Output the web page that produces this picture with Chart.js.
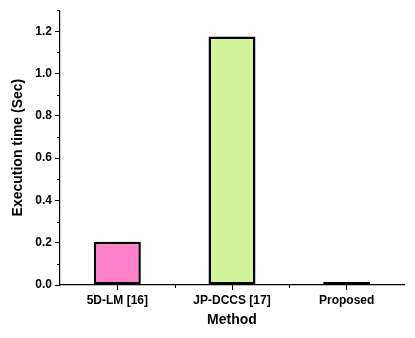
<!DOCTYPE html>
<html>
<head>
<meta charset="utf-8">
<script src="https://cdn.jsdelivr.net/npm/chart.js@4.4.1/dist/chart.umd.min.js"></script>
<style>
  html, body { margin: 0; padding: 0; background: #fff; }
  #wrap { width: 415px; height: 338px; }
</style>
</head>
<body>
<div id="wrap"><canvas id="timing"></canvas></div>
<script>
// execution time per method, in seconds
const methods = ['5D-LM [16]', 'JP-DCCS [17]', 'Proposed'];
const execTime = [0.205, 1.175, 0.003];
const barColors = ['#ff80c8', '#d2f29c', '#ffffff'];
const yTicks = [0, 0.2, 0.4, 0.6, 0.8, 1.0, 1.2];

const FONT = "'Liberation Sans', Arial, sans-serif";

// small minor ticks between the labelled ones on both axes
const minorTicks = {
  id: 'minorTicks',
  afterDraw(chart) {
    const ctx = chart.ctx;
    const y = chart.scales.y, x = chart.scales.x;
    ctx.save();
    ctx.strokeStyle = '#000';
    ctx.lineWidth = 1;
    ctx.beginPath();
    for (let i = 0; i < yTicks.length; i++) {
      const v = yTicks[i] + 0.1;
      if (v > y.max) break;
      const py = Math.round(y.getPixelForValue(v)) + 0.5;
      ctx.moveTo(y.right - 3, py);
      ctx.lineTo(y.right, py);
    }
    for (let i = 0; i < methods.length - 1; i++) {
      const px = Math.round((x.getPixelForTick(i) + x.getPixelForTick(i + 1)) / 2) + 0.5;
      ctx.moveTo(px, x.top);
      ctx.lineTo(px, x.top + 3);
    }
    ctx.stroke();
    ctx.restore();
  }
};

new Chart(document.getElementById('timing'), {
  type: 'bar',
  data: {
    labels: methods,
    datasets: [{
      data: execTime,
      backgroundColor: barColors,
      borderColor: '#000',
      borderWidth: 2.5,
      borderSkipped: false,
      minBarLength: 3,
      barPercentage: 0.41,
      categoryPercentage: 1.0
    }]
  },
  options: {
    responsive: true,
    maintainAspectRatio: false,
    animation: false,
    layout: { padding: { top: 7, right: 11, bottom: 9, left: 10 } },
    plugins: {
      legend: { display: false },
      tooltip: { enabled: false }
    },
    scales: {
      x: {
        offset: true,
        grid: { offset: false, drawOnChartArea: false, drawTicks: true, tickLength: 5, color: '#000' },
        border: { display: true, color: '#000', width: 1.2 },
        ticks: { color: '#000', padding: 3, font: { family: FONT, size: 12, weight: 'bold' } },
        title: {
          display: true, text: 'Method', color: '#000',
          font: { family: FONT, size: 14, weight: 'bold' }, padding: { top: 3, bottom: 0 }
        },
        afterFit(scale) { scale.height = 44; }
      },
      y: {
        min: 0,
        max: 1.3,
        afterBuildTicks(scale) {
          scale.ticks = yTicks.map(v => ({ value: v }));
        },
        grid: { drawOnChartArea: false, drawTicks: true, tickLength: 5, color: '#000' },
        border: { display: true, color: '#000', width: 1.2 },
        ticks: {
          color: '#000', padding: 3,
          font: { family: FONT, size: 12, weight: 'bold' },
          callback: v => Number(v).toFixed(1)
        },
        title: {
          display: true, text: 'Execution time (Sec)', color: '#000',
          font: { family: FONT, size: 14, weight: 'bold' }, padding: { top: 0, bottom: 6 }
        },
        afterFit(scale) { scale.width = 50; }
      }
    }
  },
  plugins: [minorTicks]
});
</script>
</body>
</html>
